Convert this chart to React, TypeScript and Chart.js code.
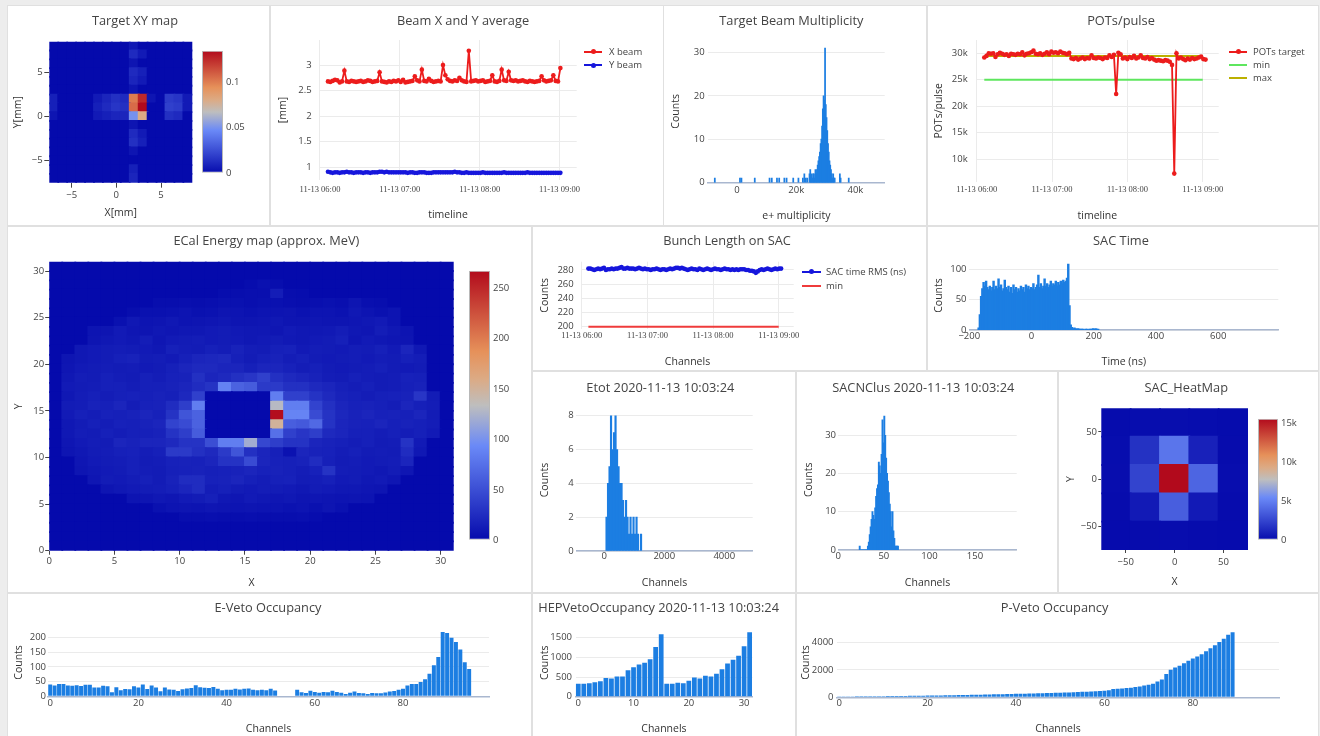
import React, { useEffect, useRef } from 'react';
import { Chart, registerables } from 'chart.js';

Chart.register(...registerables);

/* ======================= DATA ======================= */
const DAY_LABEL = '11-13';
const HOUR_TICKS = [360, 420, 480, 540]; // minutes after midnight

// Beam X and Y average [mm]
const BEAM_T0 = 366;
const BEAM_DT = 1.764;
const X_BEAM = [
  2.68, 2.67, 2.69, 2.71, 2.70, 2.66, 2.68, 2.89, 2.68, 2.67,
  2.69, 2.68, 2.67, 2.68, 2.69, 2.67, 2.68, 2.70, 2.69, 2.67,
  2.68, 2.69, 2.86, 2.68, 2.67, 2.66, 2.68, 2.67, 2.69, 2.68,
  2.70, 2.67, 2.71, 2.66, 2.67, 2.68, 2.69, 2.78, 2.70, 2.68,
  2.91, 2.69, 2.68, 2.73, 2.69, 2.67, 2.68, 2.69, 2.68, 3.00,
  2.80, 2.72, 2.69, 2.68, 2.70, 2.69, 2.75, 2.70, 2.68, 2.67,
  3.28, 2.68, 2.69, 2.70, 2.68, 2.69, 2.70, 2.67, 2.68, 2.69,
  2.80, 2.68, 2.67, 2.69, 2.91, 2.70, 2.69, 2.87, 2.70, 2.69,
  2.70, 2.68, 2.69, 2.70, 2.68, 2.67, 2.69, 2.68, 2.67, 2.68,
  2.69, 2.78, 2.70, 2.68, 2.69, 2.70, 2.80, 2.69, 2.68, 2.94,
];
const Y_BEAM = [
  0.91, 0.90, 0.89, 0.90, 0.90, 0.89, 0.90, 0.90, 0.91, 0.90,
  0.90, 0.89, 0.90, 0.90, 0.90, 0.89, 0.90, 0.90, 0.89, 0.90,
  0.90, 0.90, 0.91, 0.91, 0.90, 0.91, 0.90, 0.90, 0.90, 0.90,
  0.90, 0.90, 0.90, 0.90, 0.89, 0.90, 0.90, 0.89, 0.89, 0.90,
  0.90, 0.90, 0.89, 0.89, 0.89, 0.90, 0.90, 0.90, 0.90, 0.90,
  0.90, 0.90, 0.90, 0.90, 0.91, 0.90, 0.90, 0.89, 0.89, 0.90,
  0.89, 0.89, 0.89, 0.89, 0.89, 0.89, 0.90, 0.89, 0.89, 0.89,
  0.89, 0.89, 0.89, 0.89, 0.89, 0.90, 0.89, 0.89, 0.89, 0.89,
  0.89, 0.89, 0.89, 0.89, 0.89, 0.90, 0.89, 0.89, 0.89, 0.89,
  0.89, 0.89, 0.89, 0.89, 0.89, 0.89, 0.89, 0.89, 0.89, 0.89,
];
const BEAM_Y_TICKS = [1, 1.5, 2, 2.5, 3];

// Target beam multiplicity (bin centre, counts)
const MULT_BINS = [
  -7500, 1000, 1500, 6000, 11000, 11750, 13500, 14250, 16000, 16750,
  19000, 20750, 22250, 22750, 23250, 23750, 24500, 24750, 25000, 25250,
  25500, 25750, 26000, 26250, 26500, 26750, 27000, 27250, 27500, 27750,
  28000, 28250, 28500, 28750, 29000, 29250, 29500, 29750, 30000, 30250,
  30500, 30750, 31000, 31250, 31500, 31750, 32000, 32250, 32500, 32750,
  33000, 34750, 35000, 37750,
];
const MULT_COUNTS = [
  1, 1, 1, 1, 1, 1, 1, 1, 1, 1,
  1, 1, 1, 2, 1, 1, 2, 3, 1, 2,
  1, 2, 2, 1, 3, 2, 3, 4, 5, 6,
  7, 9, 10, 13, 17, 20, 19, 31, 18, 15,
  12, 9, 7, 5, 4, 3, 2, 1, 2, 1,
  1, 2, 1, 1,
];
const MULT_X_TICKS = [0, 20000, 40000];
const MULT_Y_TICKS = [0, 10, 20, 30];

// POTs/pulse
const POT_T0 = 366;
const POT_DT = 1.78;
const POTS = [
  29200, 29500, 30000, 29900, 30000, 29300, 29800, 30100, 29900, 29700,
  29800, 29500, 29900, 29800, 29700, 29900, 29800, 30200, 29600, 29900,
  30000, 30200, 30500, 29900, 29800, 30000, 29700, 29900, 30200, 29800,
  30300, 30100, 30200, 30000, 30300, 30100, 30000, 29800, 30100, 29000,
  28900, 29100, 28800, 29000, 29200, 28900, 29100, 29000, 29600, 29100,
  29000, 29200, 29100, 28900, 29200, 29100, 29600, 29300, 29700, 22300,
  30100, 29800, 29000, 29200, 28900, 29300, 29100, 29500, 29000, 29200,
  29600, 29100, 29000, 29300, 28900, 29100, 28800, 28600, 28700, 28600,
  28500, 28700, 28600, 28400, 27800, 7300, 30000, 29000, 29200, 28900,
  28700, 29000, 28800, 29100, 28900, 29000, 29200, 29400, 28900, 28800,
];
const POT_MIN = 25000;
const POT_MAX = 29500;
const LIMIT_T = [366, 540];
const POT_Y_TICKS = [10000, 15000, 20000, 25000, 30000];

// Bunch length on SAC
const RMS_T0 = 366;
const RMS_DT = 1.78;
const SAC_RMS = [
  282, 282, 281, 280, 281, 282, 281, 282, 283, 280,
  281, 281, 282, 281, 282, 282, 283, 284, 282, 282,
  283, 282, 282, 282, 281, 282, 283, 282, 281, 282,
  281, 281, 280, 281, 281, 282, 281, 280, 281, 281,
  280, 281, 282, 281, 282, 283, 283, 282, 283, 282,
  281, 280, 281, 282, 281, 281, 280, 282, 281, 280,
  281, 282, 281, 280, 281, 282, 281, 281, 280, 281,
  282, 281, 281, 280, 281, 280, 281, 280, 281, 281,
  281, 280, 280, 279, 279, 278, 276, 278, 280, 281,
  280, 281, 282, 281, 280, 281, 282, 281, 282, 282,
];
const RMS_MIN = 200;
const RMS_Y_TICKS = [200, 220, 240, 260, 280];

// SAC time histogram (bin left edge = SACT_X0 + i*SACT_BIN)
const SACT_X0 = -172;
const SACT_BIN = 4;
const SAC_TIME = [
  3, 25, 55, 68, 78, 72, 80, 70, 66, 72,
  64, 70, 80, 66, 72, 68, 84, 70, 74, 64,
  68, 82, 70, 66, 72, 62, 70, 60, 74, 66,
  70, 62, 68, 64, 72, 66, 70, 62, 74, 68,
  72, 66, 70, 68, 76, 66, 70, 74, 90, 70,
  76, 68, 72, 84, 72, 76, 70, 74, 80, 72,
  76, 74, 80, 72, 78, 74, 80, 76, 82, 78,
  80, 85, 108, 40, 8,
  4, 2, 3, 2, 1, 2, 1, 1, 1, 1, 0, 1, 1, 0, 1, 1, 1, 2, 1, 2, 1, 1,
];
const SACT_X_TICKS = [-200, 0, 200, 400, 600];
const SACT_Y_TICKS = [0, 50, 100];

// Etot histogram
const ETOT_X0 = 50;
const ETOT_BIN = 50;
const ETOT = [2, 4, 5, 8, 6, 7, 8, 6, 5, 4, 4, 3, 2, 3, 2, 1, 2, 1, 2, 1, 2, 1, 0, 1];
const ETOT_X_TICKS = [0, 2000, 4000];
const ETOT_Y_TICKS = [0, 2, 4, 6, 8];

// SAC number of clusters (first bin = NCLUS_X0)
const NCLUS_X0 = 23;
const NCLUS = [
  1, 0, 0, 0, 0, 0, 0, 0, 0,
  1, 2, 4, 6, 8, 10, 9, 8, 11, 14,
  16, 17, 23, 22, 20, 25, 34, 28, 35, 30,
  24, 20, 18, 15, 12, 10, 6, 10, 5, 3,
  1, 1, 1, 1,
];
const NCLUS_X_TICKS = [0, 50, 100, 150];
const NCLUS_Y_TICKS = [0, 10, 20, 30];

// Occupancies (per channel)
const EVETO = [
  40, 37, 42, 42, 37, 36, 38, 35, 39, 39,
  30, 30, 36, 34, 14, 31, 21, 25, 24, 34,
  30, 40, 25, 37, 30, 17, 30, 23, 22, 18,
  24, 27, 28, 38, 31, 29, 28, 32, 26, 21,
  22, 22, 26, 23, 26, 27, 22, 21, 22, 21,
  26, 20, 0, 0, 0, 0, 22, 14, 11, 19,
  15, 12, 15, 14, 19, 15, 12, 8, 12, 16,
  11, 10, 8, 11, 10, 10, 13, 16, 18, 22,
  26, 37, 42, 42, 49, 58, 77, 106, 134, 219,
  216, 200, 185, 160, 116, 93,
];
const EVETO_X_TICKS = [0, 20, 40, 60, 80];
const EVETO_Y_TICKS = [0, 50, 100, 150, 200];

const HEPVETO = [
  330, 330, 340, 370, 390, 475, 465, 510, 510, 670,
  745, 815, 865, 950, 1260, 1585,
  330, 330, 355, 340, 405, 490, 465, 535, 515, 585,
  695, 845, 940, 1040, 1280, 1640,
];
const HEPVETO_X_TICKS = [0, 10, 20, 30];
const HEPVETO_Y_TICKS = [0, 500, 1000, 1500];

const PVETO = [
  60, 62, 65, 66, 68, 70, 72, 74, 76, 80,
  84, 88, 90, 95, 98, 102, 106, 110, 115, 120,
  126, 130, 136, 140, 146, 150, 156, 162, 168, 175,
  182, 188, 195, 200, 208, 215, 222, 230, 238, 245,
  252, 260, 268, 275, 282, 290, 298, 306, 315, 325,
  335, 345, 358, 370, 385, 400, 415, 430, 445, 460,
  480, 520, 600, 620, 650, 680, 700, 760, 800, 860,
  920, 1000, 1150, 1300, 1710, 2020, 2190, 2310, 2500, 2670,
  2840, 2990, 3160, 3370, 3590, 3810, 4050, 4290, 4580, 4770,
];
const PVETO_X_TICKS = [0, 20, 40, 60, 80];
const PVETO_Y_TICKS = [0, 2000, 4000];

// Target XY map (rows from y=8 down to y=-7, columns x=-7..8)
const TXY_X = [-7, -6, -5, -4, -3, -2, -1, 0, 1, 2, 3, 4, 5, 6, 7, 8];
const TXY_Y = [8, 7, 6, 5, 4, 3, 2, 1, 0, -1, -2, -3, -4, -5, -6, -7];
const TXY = [
  [0, 0, 0, 0, 0, 0, 0, 0, 0, 0.005, 0, 0, 0, 0, 0, 0],
  [0, 0, 0, 0, 0, 0, 0, 0, 0, 0.012, 0.006, 0, 0, 0, 0, 0],
  [0, 0, 0, 0, 0, 0, 0, 0, 0, 0.004, 0, 0, 0, 0, 0, 0],
  [0, 0, 0, 0, 0, 0, 0, 0, 0, 0.012, 0.008, 0, 0, 0, 0, 0],
  [0, 0, 0, 0, 0, 0, 0, 0, 0, 0.010, 0.006, 0, 0, 0, 0, 0],
  [0, 0, 0, 0, 0, 0, 0, 0, 0, 0.004, 0, 0, 0, 0, 0, 0],
  [0.008, 0, 0, 0, 0, 0.006, 0.010, 0.014, 0.012, 0.100, 0.125, 0.004, 0, 0.018, 0.016, 0.006],
  [0.008, 0, 0, 0, 0, 0.008, 0.012, 0.016, 0.014, 0.105, 0.134, 0, 0, 0.020, 0.018, 0.006],
  [0.004, 0, 0, 0, 0, 0.006, 0.008, 0.010, 0.010, 0.050, 0.080, 0, 0, 0.014, 0.012, 0],
  [0, 0, 0, 0, 0, 0, 0, 0, 0, 0.004, 0, 0, 0, 0, 0, 0],
  [0, 0, 0, 0, 0, 0, 0, 0, 0, 0.012, 0.006, 0, 0, 0, 0, 0],
  [0, 0, 0, 0, 0, 0, 0, 0, 0, 0.014, 0.008, 0, 0, 0, 0, 0],
  [0, 0, 0, 0, 0, 0, 0, 0, 0, 0.004, 0, 0, 0, 0, 0, 0],
  [0, 0, 0, 0, 0, 0, 0, 0, 0, 0, 0, 0, 0, 0, 0, 0],
  [0, 0, 0, 0, 0, 0, 0, 0, 0, 0.008, 0, 0, 0, 0, 0, 0],
  [0, 0, 0, 0, 0, 0, 0, 0, 0, 0.010, 0, 0, 0, 0, 0, 0],
];
const TXY_ZMAX = 0.134;
const TXY_TICKS = [-5, 0, 5];
const TXY_CB_TICKS = [0, 0.05, 0.1];

// ECal energy map (rows from y=30 down to y=0, columns x=0..30)
const ECAL = [
  [0,0,0,0,0,0,0,0,0,0, 0,0,0,0,0,0,0,0,0,0, 0,0,0,0,0,0,0,0,0,0, 0],
  [0,0,0,0,0,0,0,0,0,0, 0,0,0,0,0,0,0,0,0,0, 0,0,0,0,0,0,0,0,0,0, 0],
  [0,0,0,0,0,0,0,0,0,0, 0,0,0,0,0,2,5,3,0,0, 0,0,0,0,0,0,0,0,0,0, 0],
  [0,0,0,0,0,0,0,0,0,0, 0,0,0,2,3,4,4,14,3,2, 0,0,0,0,0,0,0,0,0,0, 0],
  [0,0,0,0,0,0,0,0,3,3, 4,3,4,5,5,4,5,5,4,3, 4,5,4,8,4,3,0,0,0,0, 0],
  [0,0,0,0,0,0,3,5,5,6, 7,5,6,8,7,6,7,7,8,6, 7,7,6,10,7,5,7,0,0,0, 0],
  [0,0,0,0,0,5,10,7,8,10, 7,8,9,10,8,8,9,10,8,8, 9,8,8,9,10,12,7,0,0,0, 0],
  [0,0,0,7,8,12,9,8,10,9, 10,10,12,13,11,10,10,9,12,10, 10,11,14,10,9,14,10,7,0,0, 0],
  [0,0,0,8,10,12,10,14,9,12, 13,14,12,13,12,10,12,13,11,10, 12,13,16,9,12,10,9,8,0,0, 0],
  [0,0,10,12,13,14,13,12,10,16, 14,13,16,14,18,14,13,16,17,12, 14,13,12,14,13,16,12,20,10,0, 0],
  [0,8,10,12,13,16,18,13,14,12, 16,20,21,23,16,13,16,18,14,16, 13,12,13,14,12,14,13,16,14,0, 0],
  [0,9,12,13,14,13,14,12,13,16, 20,23,23,20,20,16,20,20,17,14, 16,13,12,13,14,16,13,12,13,0, 0],
  [0,10,14,13,16,14,13,16,14,17, 18,28,20,23,28,32,40,28,23,20, 18,14,13,16,14,13,14,17,16,0, 0],
  [0,12,13,14,16,16,14,16,16,18, 20,25,30,88,65,60,35,35,28,28, 23,20,16,14,16,13,14,16,18,0, 0],
  [0,10,14,16,14,16,17,16,18,16, 22,40,0,0,0,0,0,85,40,40, 30,23,18,16,14,16,17,18,32,13, 0],
  [0,13,14,18,16,20,14,17,18,25, 38,85,0,0,0,0,0,130,85,85, 42,28,20,17,18,16,14,20,16,14, 0],
  [0,12,16,14,17,16,18,20,17,30, 55,65,0,0,0,0,0,265,90,90, 48,30,21,18,20,17,18,16,20,13, 0],
  [0,10,13,16,14,17,16,18,20,42, 48,65,0,0,0,0,0,150,62,58, 70,30,20,18,17,20,16,18,16,14, 0],
  [0,10,14,13,16,14,16,16,18,30, 38,60,0,0,0,0,0,75,40,32, 38,23,20,16,16,14,16,14,16,12, 0],
  [0,9,12,14,13,20,18,20,20,23, 30,30,50,85,85,120,45,38,30,30, 20,18,16,14,16,13,14,30,12,0, 0],
  [0,8,10,13,14,16,17,14,16,35, 35,28,23,35,55,28,20,16,6,20, 18,17,14,16,13,14,13,25,10,0, 0],
  [0,0,9,12,13,14,16,13,14,17, 18,17,20,30,30,48,20,17,16,18, 25,16,13,14,12,13,14,20,0,0, 0],
  [0,0,8,10,12,13,16,14,13,16, 17,18,16,17,18,20,17,18,16,14, 17,30,14,13,12,10,13,9,0,0, 0],
  [0,0,0,9,13,12,14,16,13,18, 25,25,17,18,20,16,14,16,17,13, 14,16,12,13,10,12,9,0,0,0, 0],
  [0,0,0,0,8,10,12,13,14,16, 20,25,14,16,13,12,14,13,12,10, 13,12,10,10,9,8,0,0,0,0, 0],
  [0,0,0,0,0,0,7,8,10,9, 12,13,16,10,9,12,10,9,10,8, 9,8,7,8,7,0,0,0,0,0, 0],
  [0,0,0,0,0,0,0,0,5,7, 8,7,9,8,7,8,7,7,6,7, 5,8,5,0,0,0,0,0,0,0, 0],
  [0,0,0,0,0,0,0,0,0,0, 3,3,4,3,3,4,3,3,3,4, 2,0,0,0,0,0,0,0,0,0, 0],
  [0,0,0,0,0,0,0,0,0,0, 0,0,0,0,0,0,0,0,0,0, 0,0,0,0,0,0,0,0,0,0, 0],
  [0,0,0,0,0,0,0,0,0,0, 0,0,0,0,0,0,0,0,0,0, 0,0,0,0,0,0,0,0,0,0, 0],
  [0,0,0,0,0,0,0,0,0,0, 0,0,0,0,0,0,0,0,0,0, 0,0,0,0,0,0,0,0,0,0, 0],
];
const ECAL_X = ECAL[0].map((_, c) => c + 0.5); // cell centres (grid)
const ECAL_Y = ECAL.map((_, r) => 30.5 - r);
const ECAL_ZMAX = 267;
const ECAL_TICKS = [0, 5, 10, 15, 20, 25, 30];
const ECAL_CB_TICKS = [0, 50, 100, 150, 200, 250];

// SAC heat map (rows from y=60 down to y=-60)
const SACHM_X = [-60, -30, 0, 30, 60];
const SACHM_Y = [60, 30, 0, -30, -60];
const SACHM = [
  [80, 120, 160, 120, 80],
  [120, 1700, 4600, 1000, 100],
  [150, 2500, 15580, 3900, 150],
  [100, 700, 3600, 700, 100],
  [60, 100, 140, 100, 60],
];
const SACHM_ZMAX = 15580;
const SACHM_TICKS = [-50, 0, 50];
const SACHM_CB_TICKS = [0, 5000, 10000, 15000];

/* ======================= STYLE ======================= */
const SANS = '"Open Sans", "DejaVu Sans", sans-serif';
const SERIF = '"Liberation Serif", "DejaVu Serif", serif';
const TICK_FONT = { family: SANS, size: 9.5 };
const DATE_FONT = { family: SERIF, size: 8.5 };
const AXT_FONT = { family: SANS, size: 10.5 };
const AXT_LH = 10.5 * 1.2;
const TXT = '#444';
const GRID = '#ebebeb';
const AXIS_LINE = '#a9b7cf';
const BAR = '#1c7ee2';
const RED = '#ec1c1c';
const BLUE = '#1616dc';
const GREEN = '#5ee65e';
const OLIVE = '#bcb000';

const RDBU: [number, number[]][] = [
  [0, [5, 10, 172]], [0.35, [106, 137, 247]], [0.5, [190, 190, 190]],
  [0.6, [220, 170, 132]], [0.7, [230, 145, 90]], [1, [178, 10, 28]],
];
function rdbu(t: number) {
  const u = Math.max(0, Math.min(1, t));
  for (let i = 1; i < RDBU.length; i++) {
    const [p0, c0] = RDBU[i - 1];
    const [p1, c1] = RDBU[i];
    if (u <= p1) {
      const f = (u - p0) / (p1 - p0);
      const c = c0.map((v, k) => Math.round(v + (c1[k] - v) * f));
      return `rgb(${c[0]},${c[1]},${c[2]})`;
    }
  }
  return 'rgb(178,10,28)';
}

const minus = (s: string) => s.replace('-', '\u2212');
const fmtPlain = (v: number) => minus(String(v));
const fmtK = (v: number) => minus(Math.abs(v) >= 1000 ? `${v / 1000}k` : String(v));
const pad2 = (n: number) => String(n).padStart(2, '0');
const fmtHour = (v: number) => `${DAY_LABEL} ${pad2(Math.floor(v / 60))}:${pad2(Math.round(v % 60))}`;

/* ======================= HELPERS ======================= */
type Geo = { W: number; H: number; L: number; T: number; R: number; B: number; yLab: number; xLab: number; yTit: number; xTit: number; tick?: number };
type Ax = { min: number; max: number; ticks: number[]; title: string; fmt?: (v: number) => string; grid?: boolean; line?: boolean; date?: boolean };

function mkOptions(g: Geo, xa: Ax, ya: Ax): any {
  const tl = g.tick || 0;
  const xf = xa.date ? DATE_FONT : TICK_FONT;
  const padL = g.yTit - AXT_LH / 2;
  const padB = g.H - (g.xTit + AXT_LH / 2);
  const yW = g.L - padL;
  const xH = g.H - padB - g.B;
  const axis = (a: Ax, horiz: boolean) => ({
    type: 'linear',
    min: a.min,
    max: a.max,
    offset: false,
    afterBuildTicks: (s: any) => { s.ticks = a.ticks.map((v) => ({ value: v })); },
    afterFit: (s: any) => { if (horiz) s.height = xH; else s.width = yW; },
    ticks: {
      font: horiz ? xf : TICK_FONT,
      color: TXT,
      padding: horiz ? g.xLab - g.B - tl - xf.size * 0.6 : g.L - tl - g.yLab,
      maxRotation: 0,
      minRotation: 0,
      autoSkip: false,
      callback: (v: number) => (a.fmt || fmtPlain)(v),
    },
    grid: {
      display: true, offset: false, drawOnChartArea: !!a.grid, color: GRID, lineWidth: 1,
      drawTicks: tl > 0, tickLength: tl, tickColor: TXT, tickWidth: 1,
    },
    border: { display: !!a.line, color: AXIS_LINE, width: 1.5 },
    title: { display: true, text: a.title, font: AXT_FONT, color: '#333', padding: 0 },
  });
  return {
    responsive: false,
    animation: false,
    events: [],
    layout: { padding: { left: padL, top: g.T, right: g.W - g.R, bottom: padB } },
    plugins: { legend: { display: false }, tooltip: { enabled: false }, title: { display: false } },
    scales: { x: axis(xa, true), y: axis(ya, false) },
  };
}

function heat(rows: number[][], xs: number[], ys: number[], half: number, zmax: number) {
  const data: any[] = [];
  const bg: string[] = [];
  rows.forEach((row, r) => row.forEach((v, c) => {
    data.push({ x: xs[c], y: [ys[r] - half, ys[r] + half] });
    bg.push(rdbu(v / zmax));
  }));
  return { data, backgroundColor: bg, borderWidth: 0, barPercentage: 1, categoryPercentage: 1, inflateAmount: 0.9 };
}

const series = (vals: number[], t0: number, dt: number, color: string) => ({
  data: vals.map((v, i) => ({ x: t0 + i * dt, y: v })),
  borderColor: color, backgroundColor: color, borderWidth: 1.8,
  pointRadius: 2.3, pointBorderWidth: 0, pointBackgroundColor: color, tension: 0,
});
const level = (ts: number[], y: number, color: string) => ({
  data: ts.map((x) => ({ x, y })),
  borderColor: color, backgroundColor: color, borderWidth: 2, pointRadius: 0, tension: 0,
});
const bars = (data: any[], pct: number, inflate: any = 'auto') => ({
  data, backgroundColor: BAR, borderWidth: 0, barPercentage: pct, categoryPercentage: 1, inflateAmount: inflate,
});

function cbConfig(zmax: number, ticks: number[], fmt: (v: number) => string, labW: number): any {
  return {
    type: 'bar',
    data: {
      labels: [''],
      datasets: [{
        data: [[0, zmax]],
        backgroundColor: (c: any) => {
          const ch = c.chart;
          const ys = ch.scales && ch.scales.y;
          const fallback = 'rgb(106,137,247)';
          if (!ys || !ch.chartArea) return fallback;
          const y0 = ys.getPixelForValue(0);
          const y1 = ys.getPixelForValue(zmax);
          if (!Number.isFinite(y0) || !Number.isFinite(y1) || y0 === y1) return fallback;
          const g = ch.ctx.createLinearGradient(0, y0, 0, y1);
          RDBU.forEach(([p, col]) => g.addColorStop(p, `rgb(${col[0]},${col[1]},${col[2]})`));
          return g;
        },
        borderColor: '#b8b8b8', borderWidth: 1, borderSkipped: false,
        barPercentage: 1, categoryPercentage: 1, inflateAmount: 0,
      }],
    },
    options: {
      responsive: false, animation: false, events: [],
      layout: { padding: { left: 0, top: 6, right: 0, bottom: 6 } },
      plugins: { legend: { display: false }, tooltip: { enabled: false } },
      scales: {
        x: { display: false },
        y: {
          position: 'right', min: 0, max: zmax,
          afterBuildTicks: (s: any) => { s.ticks = ticks.map((v) => ({ value: v })); },
          afterFit: (s: any) => { s.width = labW; },
          ticks: { padding: 3, font: TICK_FONT, color: TXT, callback: (v: number) => fmt(v) },
          grid: { display: true, drawOnChartArea: false, drawTicks: false },
          border: { display: false },
        },
      },
    },
  };
}

/* ======================= COMPONENTS ======================= */
function ChartBox({ w, h, cfg, x = 0, y = 0 }: { w: number; h: number; cfg: () => any; x?: number; y?: number }) {
  const ref = useRef<HTMLCanvasElement>(null);
  useEffect(() => {
    let chart: any = null;
    try {
      chart = new Chart(ref.current as HTMLCanvasElement, cfg());
    } catch (e) {
      console.error(e);
    }
    return () => { if (chart) chart.destroy(); };
  }, []);
  return <canvas ref={ref} width={w} height={h} style={{ position: 'absolute', left: x, top: y, width: w, height: h, display: 'block' }} />;
}

function ColorBar({ x, y, w, h, zmax, ticks, fmt }: any) {
  const labW = 34;
  return <ChartBox x={x} y={y - 6} w={w + labW} h={h + 12} cfg={() => cbConfig(zmax, ticks, fmt, labW)} />;
}

function Panel({ x, y, w, h, title, tx, ty, children }: any) {
  return (
    <div style={{ position: 'absolute', left: x, top: y, width: w, height: h, background: '#fff', boxShadow: '0 0 0 1px #e0e0e0' }}>
      {children}
      <div style={{ position: 'absolute', left: tx, top: ty, transform: 'translate(-50%, -50%)', font: `12.8px ${SANS}`, lineHeight: 1, color: TXT, whiteSpace: 'nowrap' }}>{title}</div>
    </div>
  );
}

function Legend({ items, x1, x2, tx, ys }: any) {
  return (
    <>
      {items.map((it: any, i: number) => (
        <React.Fragment key={i}>
          <div style={{ position: 'absolute', left: x1, top: ys[i] - 1, width: x2 - x1, height: 2, background: it.color }} />
          {it.marker && <div style={{ position: 'absolute', left: (x1 + x2) / 2 - 2.5, top: ys[i] - 2.5, width: 5, height: 5, borderRadius: '50%', background: it.color }} />}
          <div style={{ position: 'absolute', left: tx, top: ys[i], transform: 'translateY(-50%)', font: `9.5px ${SANS}`, lineHeight: 1, color: TXT, whiteSpace: 'nowrap' }}>{it.label}</div>
        </React.Fragment>
      ))}
    </>
  );
}

/* ======================= CHART CONFIGS ======================= */
const cfgTargetXY = () => ({
  type: 'bar',
  data: { datasets: [heat(TXY, TXY_X, TXY_Y, 0.5, TXY_ZMAX)] },
  options: mkOptions(
    { W: 261, H: 219, L: 41.3, T: 35.7, R: 184.3, B: 176.7, yLab: 34.7, xLab: 189, yTit: 10.3, xTit: 207, tick: 5 },
    { min: -7.5, max: 8.5, ticks: TXY_TICKS, title: 'X[mm]' },
    { min: -7.5, max: 8.5, ticks: TXY_TICKS, title: 'Y[mm]' }),
});

const cfgBeam = () => ({
  type: 'line',
  data: { datasets: [series(X_BEAM, BEAM_T0, BEAM_DT, RED), series(Y_BEAM, BEAM_T0, BEAM_DT, BLUE)] },
  options: mkOptions(
    { W: 392, H: 219, L: 48.3, T: 34, R: 305.7, B: 174, yLab: 40.7, xLab: 184, yTit: 11.7, xTit: 209 },
    { min: 359.5, max: 552.9, ticks: HOUR_TICKS, title: 'timeline', fmt: fmtHour, grid: true, date: true },
    { min: 0.75, max: 3.49, ticks: BEAM_Y_TICKS, title: '[mm]', grid: true }),
});

const cfgMult = () => ({
  type: 'bar',
  data: { datasets: [bars(MULT_BINS.map((x, i) => ({ x, y: MULT_COUNTS[i] })), 1, 0.5)] },
  options: mkOptions(
    { W: 262, H: 219, L: 44, T: 34, R: 220.7, B: 176.7, yLab: 40.7, xLab: 184.7, yTit: 12.3, xTit: 210 },
    { min: -9800, max: 49900, ticks: MULT_X_TICKS, title: 'e+ multiplicity', fmt: fmtK, line: true },
    { min: 0, max: 32.9, ticks: MULT_Y_TICKS, title: 'Counts', grid: true }),
});

const cfgPots = () => ({
  type: 'line',
  data: { datasets: [series(POTS, POT_T0, POT_DT, RED), level(LIMIT_T, POT_MIN, GREEN), level(LIMIT_T, POT_MAX, OLIVE)] },
  options: mkOptions(
    { W: 390, H: 219, L: 48, T: 34, R: 290.7, B: 175.7, yLab: 39.7, xLab: 184, yTit: 11.3, xTit: 210 },
    { min: 359.4, max: 552.7, ticks: HOUR_TICKS, title: 'timeline', fmt: fmtHour, grid: true, date: true },
    { min: 5770, max: 32500, ticks: POT_Y_TICKS, title: 'POTs/pulse', fmt: fmtK, grid: true }),
});

const cfgEcal = () => ({
  type: 'bar',
  data: { datasets: [heat(ECAL, ECAL_X, ECAL_Y, 0.5, ECAL_ZMAX)] },
  options: mkOptions(
    { W: 523, H: 365, L: 41.2, T: 34.7, R: 445.7, B: 323.7, yLab: 36.1, xLab: 334.7, yTit: 10.7, xTit: 356.3, tick: 4 },
    { min: 0, max: 31, ticks: ECAL_TICKS, title: 'X' },
    { min: 0, max: 31, ticks: ECAL_TICKS, title: 'Y' }),
});

const cfgBunch = () => ({
  type: 'line',
  data: { datasets: [series(SAC_RMS, RMS_T0, RMS_DT, BLUE), level(LIMIT_T, RMS_MIN, '#ef3b3b')] },
  options: mkOptions(
    { W: 393, H: 143, L: 48.3, T: 34.7, R: 260.7, B: 102, yLab: 40.7, xLab: 109, yTit: 11.7, xTit: 135.3 },
    { min: 359.5, max: 553.7, ticks: HOUR_TICKS, title: 'Channels', fmt: fmtHour, grid: true, date: true },
    { min: 196.8, max: 291.7, ticks: RMS_Y_TICKS, title: 'Counts', grid: true }),
});

const cfgSacTime = () => ({
  type: 'bar',
  data: { datasets: [bars(SAC_TIME.map((v, i) => ({ x: SACT_X0 + (i + 0.5) * SACT_BIN, y: v })), 1, 0.6)] },
  options: mkOptions(
    { W: 390, H: 143, L: 41.3, T: 34, R: 350.3, B: 103, yLab: 38.5, xLab: 109.7, yTit: 11.3, xTit: 134.7 },
    { min: -200, max: 793, ticks: SACT_X_TICKS, title: 'Time (ns)', line: true },
    { min: 0, max: 113.7, ticks: SACT_Y_TICKS, title: 'Counts', grid: true }),
});

const cfgEtot = () => ({
  type: 'bar',
  data: { datasets: [bars(ETOT.map((v, i) => ({ x: ETOT_X0 + (i + 0.5) * ETOT_BIN, y: v })), 1)] },
  options: mkOptions(
    { W: 262, H: 220, L: 43.3, T: 37, R: 219.7, B: 179, yLab: 40.7, xLab: 184.7, yTit: 12.3, xTit: 210.7 },
    { min: -933, max: 4947, ticks: ETOT_X_TICKS, title: 'Channels', line: true },
    { min: 0, max: 8.4, ticks: ETOT_Y_TICKS, title: 'Counts', grid: true }),
});

const cfgNclus = () => ({
  type: 'bar',
  data: { datasets: [bars(NCLUS.map((v, i) => ({ x: NCLUS_X0 + i + 0.5, y: v })), 1, 0.5)] },
  options: mkOptions(
    { W: 260, H: 220, L: 41.3, T: 37.6, R: 219.7, B: 178, yLab: 39, xLab: 184.7, yTit: 11.7, xTit: 210.7 },
    { min: 0, max: 195.8, ticks: NCLUS_X_TICKS, title: 'Channels', line: true },
    { min: 0, max: 36.75, ticks: NCLUS_Y_TICKS, title: 'Counts', grid: true }),
});

const cfgSacHeat = () => ({
  type: 'bar',
  data: { datasets: [heat(SACHM, SACHM_X, SACHM_Y, 15, SACHM_ZMAX)] },
  options: mkOptions(
    { W: 259, H: 220, L: 42.3, T: 36.3, R: 189, B: 178, yLab: 38, xLab: 190.7, yTit: 11.7, xTit: 209.7, tick: 3 },
    { min: -75, max: 75, ticks: SACHM_TICKS, title: 'X' },
    { min: -75, max: 75, ticks: SACHM_TICKS, title: 'Y' }),
});

const cfgEveto = () => ({
  type: 'bar',
  data: { datasets: [bars(EVETO.map((v, i) => ({ x: i, y: v })), 0.9)] },
  options: mkOptions(
    { W: 523, H: 142, L: 40, T: 34.6, R: 481, B: 102.3, yLab: 38, xLab: 109.5, yTit: 10.7, xTit: 135 },
    { min: -0.5, max: 99.5, ticks: EVETO_X_TICKS, title: 'Channels', line: true },
    { min: 0, max: 231, ticks: EVETO_Y_TICKS, title: 'Counts', grid: true }),
});

const cfgHepveto = () => ({
  type: 'bar',
  data: { datasets: [bars(HEPVETO.map((v, i) => ({ x: i, y: v })), 0.86)] },
  options: mkOptions(
    { W: 262, H: 142, L: 42.5, T: 34.9, R: 219.4, B: 102.7, yLab: 39, xLab: 109.5, yTit: 11.6, xTit: 135 },
    { min: -0.5, max: 31.5, ticks: HEPVETO_X_TICKS, title: 'Channels', line: true },
    { min: 0, max: 1722, ticks: HEPVETO_Y_TICKS, title: 'Counts', grid: true }),
});

const cfgPveto = () => ({
  type: 'bar',
  data: { datasets: [bars(PVETO.map((v, i) => ({ x: i, y: v })), 0.9)] },
  options: mkOptions(
    { W: 521, H: 142, L: 40, T: 33.8, R: 482, B: 103.3, yLab: 36.5, xLab: 109.5, yTit: 9, xTit: 135 },
    { min: -0.5, max: 99.5, ticks: PVETO_X_TICKS, title: 'Channels', line: true },
    { min: 0, max: 5090, ticks: PVETO_Y_TICKS, title: 'Counts', grid: true }),
});

/* ======================= APP ======================= */
export default function App() {
  return (
    <div style={{ position: 'absolute', left: 0, top: 0, width: 1320, height: 736, background: '#ededed', overflow: 'hidden' }}>
      <Panel x={8} y={6} w={261} h={219} title="Target XY map" tx={127} ty={14}>
        <ChartBox w={261} h={219} cfg={cfgTargetXY} />
        <ColorBar x={194} y={42} w={21} h={128} zmax={TXY_ZMAX} ticks={TXY_CB_TICKS} fmt={fmtPlain} />
      </Panel>

      <Panel x={271} y={6} w={392} h={219} title="Beam X and Y average" tx={192} ty={14}>
        <ChartBox w={392} h={219} cfg={cfgBeam} />
        <Legend x1={313} x2={331} tx={338} ys={[45.7, 59]} items={[
          { label: 'X beam', color: RED, marker: true },
          { label: 'Y beam', color: BLUE, marker: true },
        ]} />
      </Panel>

      <Panel x={664} y={6} w={262} h={219} title="Target Beam Multiplicity" tx={127.3} ty={14}>
        <ChartBox w={262} h={219} cfg={cfgMult} />
      </Panel>

      <Panel x={928} y={6} w={390} h={219} title="POTs/pulse" tx={193} ty={14}>
        <ChartBox w={390} h={219} cfg={cfgPots} />
        <Legend x1={301} x2={319} tx={325} ys={[45.7, 59, 72.3]} items={[
          { label: 'POTs target', color: RED, marker: true },
          { label: 'min', color: GREEN, marker: false },
          { label: 'max', color: OLIVE, marker: false },
        ]} />
      </Panel>

      <Panel x={8} y={227} w={523} h={365} title="ECal Energy map (approx. MeV)" tx={258.4} ty={13}>
        <ChartBox w={523} h={365} cfg={cfgEcal} />
        <ColorBar x={461} y={41} w={21} h={275} zmax={ECAL_ZMAX} ticks={ECAL_CB_TICKS} fmt={fmtPlain} />
      </Panel>

      <Panel x={533} y={227} w={393} h={143} title="Bunch Length on SAC" tx={194} ty={13}>
        <ChartBox w={393} h={143} cfg={cfgBunch} />
        <Legend x1={269} x2={288} tx={293} ys={[44.7, 58.7]} items={[
          { label: 'SAC time RMS (ns)', color: BLUE, marker: true },
          { label: 'min', color: '#ef3b3b', marker: false },
        ]} />
      </Panel>

      <Panel x={928} y={227} w={390} h={143} title="SAC Time" tx={193} ty={13}>
        <ChartBox w={390} h={143} cfg={cfgSacTime} />
      </Panel>

      <Panel x={533} y={372} w={262} h={220} title="Etot 2020-11-13 10:03:24" tx={127.3} ty={15.3}>
        <ChartBox w={262} h={220} cfg={cfgEtot} />
      </Panel>

      <Panel x={797} y={372} w={260} h={220} title="SACNClus 2020-11-13 10:03:24" tx={126.3} ty={15.3}>
        <ChartBox w={260} h={220} cfg={cfgNclus} />
      </Panel>

      <Panel x={1059} y={372} w={259} h={220} title="SAC_HeatMap" tx={127.3} ty={15.3}>
        <ChartBox w={259} h={220} cfg={cfgSacHeat} />
        <ColorBar x={199} y={44} w={20} h={127} zmax={SACHM_ZMAX} ticks={SACHM_CB_TICKS} fmt={fmtK} />
      </Panel>

      <Panel x={8} y={594} w={523} h={142} title="E-Veto Occupancy" tx={260} ty={13}>
        <ChartBox w={523} h={142} cfg={cfgEveto} />
      </Panel>

      <Panel x={533} y={594} w={262} h={142} title="HEPVetoOccupancy 2020-11-13 10:03:24" tx={125.6} ty={13}>
        <ChartBox w={262} h={142} cfg={cfgHepveto} />
      </Panel>

      <Panel x={797} y={594} w={521} h={142} title="P-Veto Occupancy" tx={257.6} ty={13}>
        <ChartBox w={521} h={142} cfg={cfgPveto} />
      </Panel>
    </div>
  );
}
